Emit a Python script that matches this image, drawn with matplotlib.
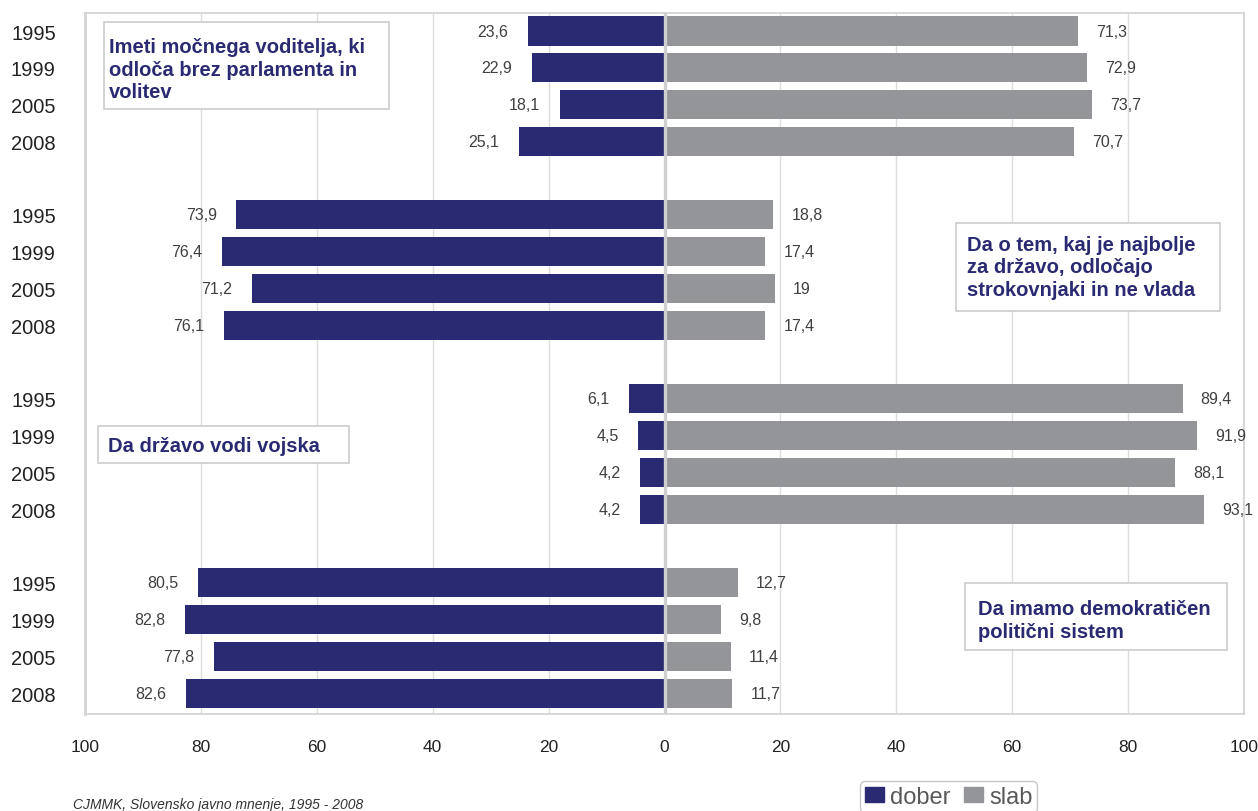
import matplotlib.pyplot as plt
from matplotlib.patches import Rectangle

plt.rcParams['font.family'] = ['Liberation Sans', 'DejaVu Sans']

years = ['1995', '1999', '2005', '2008']
questions = [
    'Imeti močnega voditelja, ki\nodloča brez parlamenta in\nvolitev',
    'Da o tem, kaj je najbolje\nza državo, odločajo\nstrokovnjaki in ne vlada',
    'Da državo vodi vojska',
    'Da imamo demokratičen\npolitični sistem',
]
dober = [
    [23.6, 22.9, 18.1, 25.1],
    [73.9, 76.4, 71.2, 76.1],
    [6.1, 4.5, 4.2, 4.2],
    [80.5, 82.8, 77.8, 82.6],
]
slab = [
    [71.3, 72.9, 73.7, 70.7],
    [18.8, 17.4, 19, 17.4],
    [89.4, 91.9, 88.1, 93.1],
    [12.7, 9.8, 11.4, 11.7],
]
xticks = [-100, -80, -60, -40, -20, 0, 20, 40, 60, 80, 100]

navy = '#2a2a72'
grey = '#939598'
W, H = 1258, 812


def fx(x):
    return x / W


def fy(y):
    return 1 - y / H


def fmt(v):
    return ('%g' % v).replace('.', ',')


fig = plt.figure(figsize=(W / 100, H / 100), dpi=100)
ax = fig.add_axes([fx(85), fy(715), fx(1244) - fx(85), fy(14) - fy(715)])

pos = []
for g in range(4):
    for i in range(4):
        pos.append(g * 5 + i)

d_vals = [v for grp in dober for v in grp]
s_vals = [v for grp in slab for v in grp]
labels = years * 4

ax.barh(pos, [-v for v in d_vals], height=0.79, color=navy, zorder=2)
ax.barh(pos, s_vals, height=0.79, color=grey, zorder=2)
ax.axvline(0, color='#cfcfcf', lw=2.4, zorder=3)

for p, v in zip(pos, d_vals):
    ax.annotate(fmt(v), (-v, p), xytext=(-14, 0), textcoords='offset points',
                ha='right', va='center', fontsize=11.5, color='#404040')
for p, v in zip(pos, s_vals):
    ax.annotate(fmt(v), (v, p), xytext=(13, 0), textcoords='offset points',
                ha='left', va='center', fontsize=11.5, color='#404040')

ax.set_xlim(-100, 100)
ax.set_ylim(18.57, -0.49)
ax.set_xticks(xticks)
ax.set_xticklabels([str(abs(t)) for t in xticks], fontsize=12.5, color='#222222')
ax.set_yticks(pos)
ax.set_yticklabels(labels, fontsize=14.5, color='#222222')
ax.tick_params(axis='x', length=0, pad=18)
ax.tick_params(axis='y', length=0, pad=21)
ax.grid(axis='x', color='#dddddd', lw=1, zorder=0)
ax.set_axisbelow(True)
for s in ax.spines.values():
    s.set_color('#d4d4d4')
    s.set_linewidth(1.3)
ax.spines['left'].set_linewidth(2)

# question boxes (pixel coords, from top-left)
boxes = [
    (104, 23, 389, 110, 109, 70),
    (956, 224, 1220, 312, 967, 268),
    (98, 427, 349, 464, 108, 447),
    (965, 584, 1227, 651, 978, 621),
]
for (x0, y0, x1, y1, tx, ty), q in zip(boxes, questions):
    fig.add_artist(Rectangle((fx(x0), fy(y1)), fx(x1) - fx(x0), fy(y0) - fy(y1),
                             transform=fig.transFigure, facecolor='white',
                             edgecolor='#cccccc', lw=1.2, zorder=5))
    fig.text(fx(tx), fy(ty), q, ha='left', va='center', fontsize=14.5,
             fontweight='bold', color=navy, linespacing=1.25, zorder=6)

fig.text(fx(73), fy(809), 'CJMMK, Slovensko javno mnenje, 1995 - 2008',
         fontsize=10, style='italic', color='#333333', va='baseline')

h1 = Rectangle((0, 0), 1, 1, color=navy)
h2 = Rectangle((0, 0), 1, 1, color=grey)
leg = fig.legend([h1, h2], ['dober', 'slab'], loc='upper left',
                 bbox_to_anchor=(fx(860), fy(782)), borderaxespad=0,
                 ncol=2, fontsize=17, handlelength=0.8, handleheight=0.6,
                 handletextpad=0.25, columnspacing=0.6, borderpad=0.2,
                 fancybox=True, edgecolor='#c8c8c8', framealpha=1)
for t in leg.get_texts():
    t.set_color('#595959')

fig.savefig('out.png', dpi=100)
